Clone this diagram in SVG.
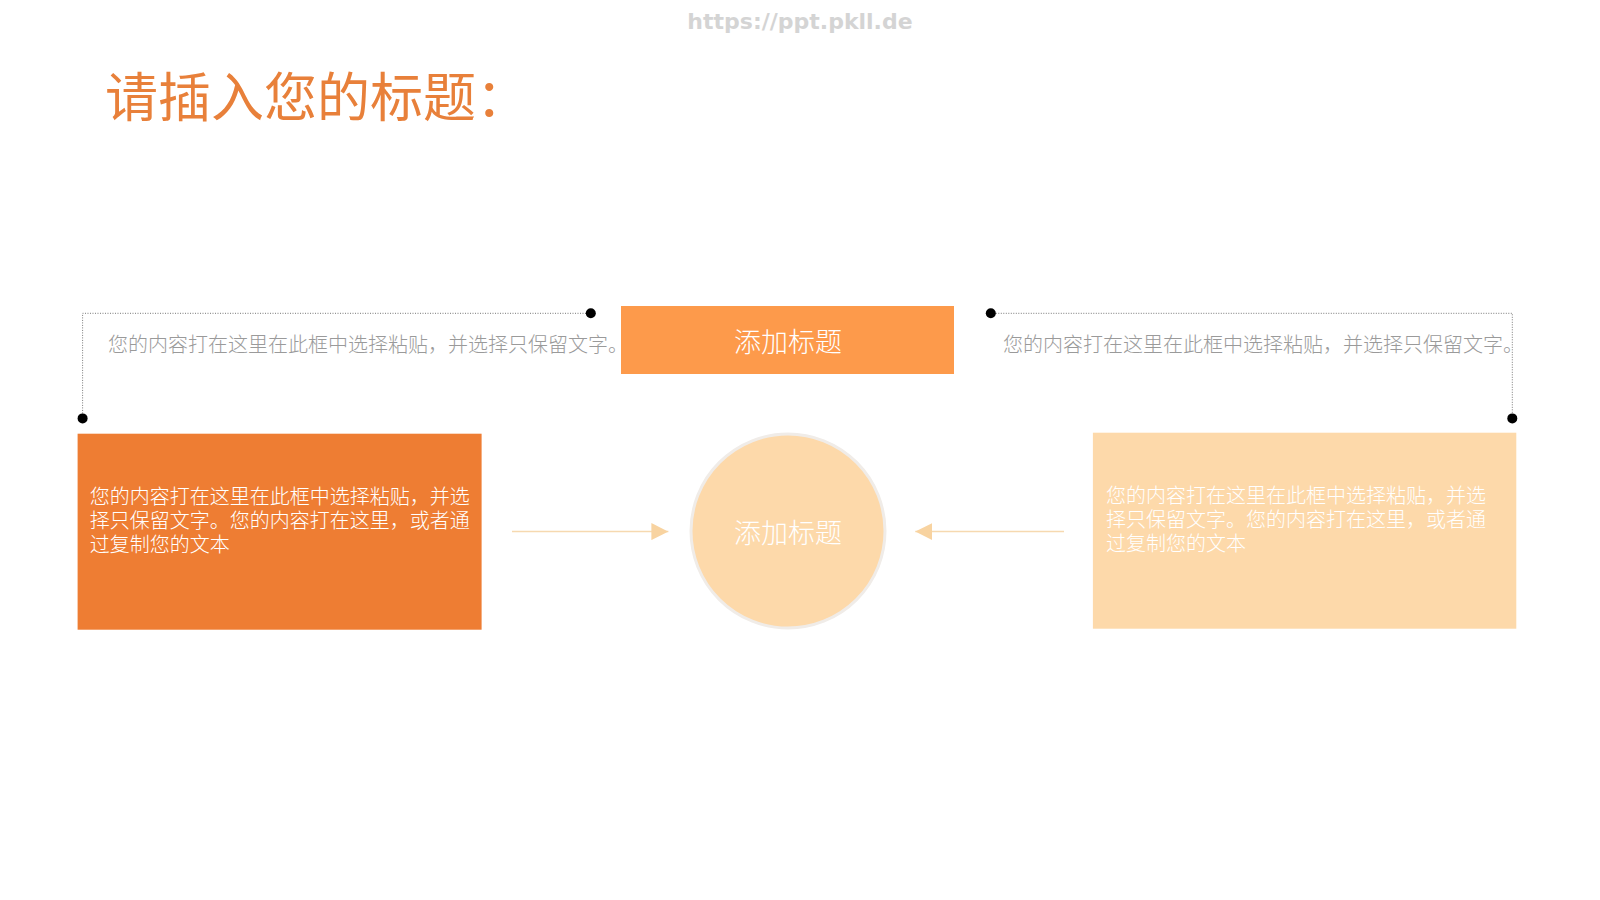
<svg xmlns="http://www.w3.org/2000/svg" width="1600" height="900" viewBox="0 0 1600 900">
<defs>
<style>
.cjk{font-family:"Noto Sans CJK SC","Liberation Sans",sans-serif;}
.note{font-size:20px;fill:#9a9a9a;font-weight:300;}
.body{font-size:20px;fill:#ffffff;font-weight:300;}
.head{font-size:27px;fill:#ffffff;text-anchor:middle;dominant-baseline:central;font-weight:300;}
.dotline{fill:none;stroke:#777;stroke-width:1;stroke-dasharray:1 1.5;}
.link{stroke:#F6D9B0;stroke-width:1.5;fill:none;}
</style>
<marker id="ah" viewBox="0 0 10 10" refX="10" refY="5" markerWidth="17" markerHeight="17" markerUnits="userSpaceOnUse" orient="auto">
<path d="M0,0 L10,5 L0,10 Z" fill="#F8D3A0"/>
</marker>
</defs>
<rect width="1600" height="900" fill="#ffffff"/>
<text x="800" y="29" text-anchor="middle" font-family="DejaVu Sans, sans-serif" font-weight="bold" font-size="22" fill="#d4d4d4">https://ppt.pkll.de</text>
<text class="cjk" x="105" y="117" font-size="53" fill="#E8803A">请插入您的标题：</text>

<g id="connectors">
<path class="dotline" d="M82.6,418.4 V313.3 H590.8"/>
<path class="dotline" d="M990.8,313.3 H1512.3 V418.4"/>
<circle cx="590.8" cy="313.3" r="5" fill="#000"/>
<circle cx="82.6" cy="418.4" r="5" fill="#000"/>
<circle cx="990.8" cy="313.3" r="5" fill="#000"/>
<circle cx="1512.3" cy="418.4" r="5" fill="#000"/>
<line class="link" x1="512" y1="531.6" x2="668.4" y2="531.6" marker-end="url(#ah)"/>
<line class="link" x1="1064" y1="531.6" x2="915.3" y2="531.6" marker-end="url(#ah)"/>
</g>

<g id="note-left">
<text class="cjk note" x="108" y="351.5">您的内容打在这里在此框中选择粘贴，并选择只保留文字。</text>
</g>
<g id="note-right">
<text class="cjk note" x="1003" y="351.5">您的内容打在这里在此框中选择粘贴，并选择只保留文字。</text>
</g>

<g id="title-box">
<rect x="621" y="306" width="333" height="68" fill="#FD9A4B"/>
<text class="cjk head" x="788" y="340">添加标题</text>
</g>

<g id="box-left">
<rect x="77.6" y="433.7" width="404" height="196" fill="#EE7D33"/>
<text class="cjk body" x="89.8" y="503.5">您的内容打在这里在此框中选择粘贴，并选<tspan x="89.8" dy="24">择只保留文字。您的内容打在这里，或者通</tspan><tspan x="89.8" dy="24">过复制您的文本</tspan></text>
</g>

<g id="box-right">
<rect x="1092.9" y="432.7" width="423.4" height="196" fill="#FDD9AA"/>
<text class="cjk body" x="1106" y="502.5">您的内容打在这里在此框中选择粘贴，并选<tspan x="1106" dy="24">择只保留文字。您的内容打在这里，或者通</tspan><tspan x="1106" dy="24">过复制您的文本</tspan></text>
</g>

<g id="circle-center">
<circle cx="788" cy="531" r="97" fill="#FDD9AA" stroke="#F0ECE8" stroke-width="3"/>
<text class="cjk head" x="788" y="531">添加标题</text>
</g>
</svg>
